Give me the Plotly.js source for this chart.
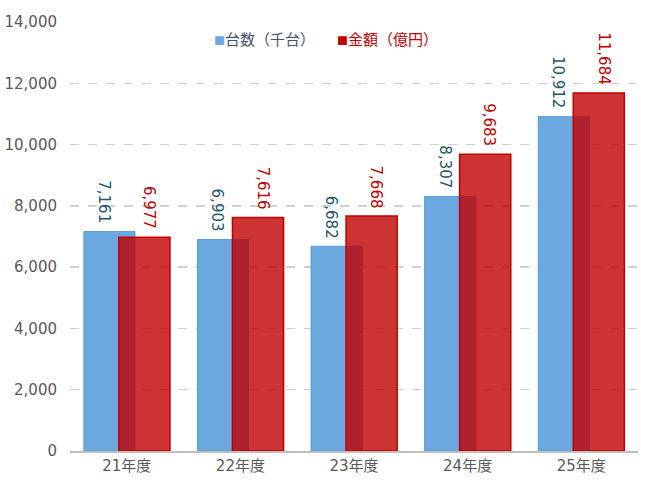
<!DOCTYPE html>
<html>
<head>
<meta charset="utf-8">
<script src="https://cdn.plot.ly/plotly-3.0.1.min.js"></script>
<style>
  html, body { margin: 0; padding: 0; background: #fff; }
  #plot { width: 650px; height: 487px; }
</style>
</head>
<body>
<div id="plot"></div>
<script>
// 年度別の台数と金額
const years = ["21年度", "22年度", "23年度", "24年度", "25年度"]
const units = [7161, 6903, 6682, 8307, 10912]      // 台数（千台）
const amounts = [6977, 7616, 7668, 9683, 11684]   // 金額（億円）
const seriesNames = ["台数（千台）", "金額（億円）"]

const baseFont = "DejaVu Sans, Noto Sans CJK JP, sans-serif"
const blue = "#6ca8e0"
const red = "rgba(192,0,0,0.8)"

const traces = [
  {
    type: "bar",
    name: seriesNames[0],
    x: years,
    y: units,
    width: 0.45,
    offset: -0.378,
    marker: {
      color: blue,
      line: { color: "#5b9bd5", width: 1 }
    },
    hoverinfo: "skip"
  },
  {
    type: "bar",
    name: seriesNames[1],
    x: years,
    y: amounts,
    width: 0.45,
    offset: -0.07,
    marker: {
      color: red,
      line: { color: "#c00000", width: 1.5 }
    },
    hoverinfo: "skip"
  }
]

// 値ラベル（縦書き風に90度回転）
const fmt = v => v.toLocaleString("en-US")
const valueLabels = (vals, color, shift) => vals.map((v, i) => ({
  x: years[i], y: v,
  xref: "x", yref: "y",
  text: fmt(v),
  textangle: 90,
  xanchor: "center", yanchor: "bottom",
  xshift: shift, yshift: 6,
  showarrow: false,
  font: { family: baseFont, size: 15, color: color }
}))

// 凡例は小さな四角とテキストで描く
const legendItem = (sq, txtColor, label) =>
  '<span style="color:' + sq + ';font-size:11px">■</span>' +
  '<span style="color:' + txtColor + '">' + label + '</span>'

const legendNotes = [
  {
    xref: "paper", yref: "paper",
    x: (212 - 70) / 568, y: 0.9615,
    xanchor: "left", yanchor: "middle",
    showarrow: false,
    text: legendItem("#6ca8e0", "#44546a", seriesNames[0]),
    font: { family: "Noto Sans CJK JP, DejaVu Sans, sans-serif", size: 15 }
  },
  {
    xref: "paper", yref: "paper",
    x: (335 - 70) / 568, y: 0.9615,
    xanchor: "left", yanchor: "middle",
    showarrow: false,
    text: legendItem("#c00000", "#c00000", seriesNames[1]),
    font: { family: "Noto Sans CJK JP, DejaVu Sans, sans-serif", size: 15 }
  }
]

const layout = {
  width: 650,
  height: 487,
  margin: { l: 70, r: 12, t: 22, b: 36, pad: 0 },
  barmode: "overlay",
  paper_bgcolor: "#ffffff",
  plot_bgcolor: "#ffffff",
  font: { family: baseFont, size: 15, color: "#595959" },
  showlegend: false,
  annotations: legendNotes
    .concat(valueLabels(units, "#24566a", -23))
    .concat(valueLabels(amounts, "#c00000", 22)),
  xaxis: {
    type: "category",
    range: [-0.5, 4.5],
    showgrid: false,
    showline: true,
    linecolor: "#bfbfbf",
    linewidth: 1.5,
    ticks: "",
    tickfont: { size: 15, color: "#595959" }
  },
  yaxis: {
    range: [0, 14000],
    dtick: 2000,
    tickformat: ",d",
    showgrid: true,
    gridcolor: "#d0d0d0",
    gridwidth: 1.5,
    griddash: "dash",
    zeroline: false,
    showline: false,
    ticks: "",
    ticklabelstandoff: 12,
    tickfont: { size: 15, color: "#595959" }
  }
}

Plotly.newPlot("plot", traces, layout, { displayModeBar: false, staticPlot: true })
</script>
</body>
</html>
